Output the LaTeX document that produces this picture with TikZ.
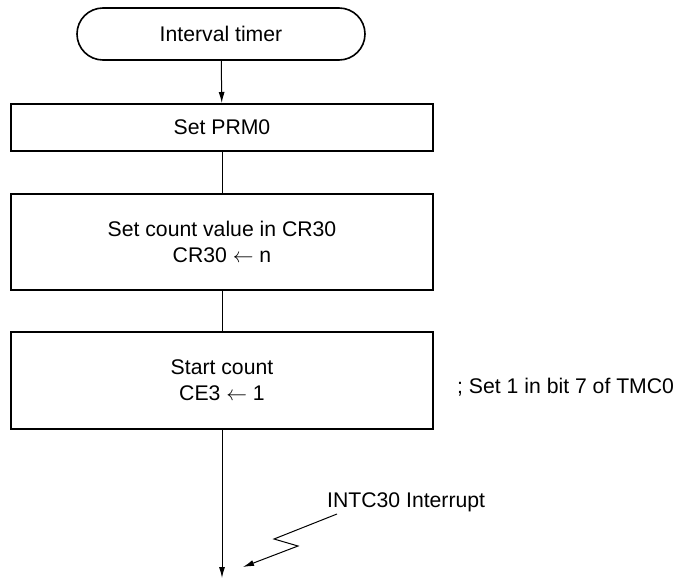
\documentclass[tikz,border=0pt]{standalone}
\usepackage{fontspec}
\setmainfont{Liberation Sans}
\usetikzlibrary{arrows.meta}
\begin{document}
\begin{tikzpicture}[x=1pt,y=-1pt,
 every node/.style={font=\fontsize{21.2}{26}\selectfont},
 procbox/.style={draw, line width=2pt, minimum width=422pt, inner sep=0pt, align=center},
 term/.style={draw, line width=1.6pt, rounded corners=26pt, minimum width=288pt, minimum height=52pt, inner sep=0pt},
 conn/.style={line width=1pt},
 tip/.style={-{Latex[length=11pt,width=6pt]}},
 plain/.style={inner sep=0pt, anchor=west}]
\useasboundingbox (0,0) rectangle (676,578);
\node[term] (t) at (221,34) {Interval timer};
\node[procbox, minimum height=47pt] (b1) at (222,127.5) {Set PRM0};
\node[procbox, minimum height=96pt] (b2) at (222,242) {Set count value in CR30\\CR30 $\leftarrow$ n};
\node[procbox, minimum height=97pt] (b3) at (222,380.5) {Start count\\CE3 $\leftarrow$ 1};
\node[plain] (note) at (457,387) {; Set 1 in bit 7 of TMC0};
\node[plain] (intl) at (327,502) {INTC30 Interrupt};
\coordinate (endp) at (222,578);
\coordinate (z0) at (337,514);
\coordinate (z1) at (274,539);
\coordinate (z2) at (298,546);
\coordinate (z3) at (243,567);
\draw[conn,tip] (t) -- (b1);
\draw[conn] (b1) -- (b2);
\draw[conn] (b2) -- (b3);
\draw[conn,tip] (b3) -- (endp);
\draw[conn,tip] (z0) -- (z1) -- (z2) -- (z3);
\end{tikzpicture}
\end{document}
